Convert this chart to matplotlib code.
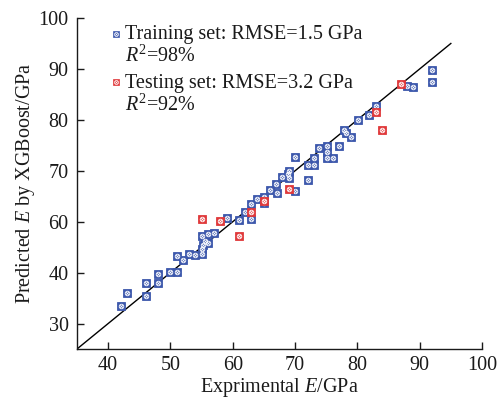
import numpy as np
import matplotlib
matplotlib.use("Agg")
import matplotlib.pyplot as plt
from matplotlib.lines import Line2D
from matplotlib.legend_handler import HandlerBase

# ---------------- data ----------------
train_x = [42.0, 43.0, 46.0, 46.0, 48.0, 48.0, 49.9, 51.1, 51.0, 52.0, 53.0, 54.0,
           55.1, 55.0, 55.3, 55.6, 56.1, 55.1, 56.0, 57.0, 59.0, 61.0, 61.9, 62.9,
           62.9, 63.9, 65.0, 65.0, 65.9, 67.1, 67.0, 67.9, 68.8, 69.0, 69.0, 70.0,
           70.0, 72.0, 72.0, 73.0, 73.0, 73.9, 75.1, 75.1, 75.1, 76.1, 77.0, 77.9,
           78.1, 79.0, 80.1, 81.9, 83.0, 88.0, 89.0, 92.0, 92.0]
train_y = [43.5, 45.9, 45.5, 47.9, 47.9, 49.7, 50.1, 50.1, 53.2, 52.4, 53.6, 53.4,
           53.7, 54.6, 55.5, 56.3, 55.8, 57.1, 57.5, 57.8, 60.7, 60.4, 62.0, 60.5,
           63.5, 64.5, 64.8, 63.7, 66.3, 65.6, 67.5, 68.8, 69.3, 69.9, 68.5, 66.1,
           72.7, 68.1, 71.2, 71.2, 72.5, 74.4, 74.8, 73.6, 72.5, 72.5, 74.9, 78.0,
           77.4, 76.6, 80.0, 81.0, 82.7, 86.7, 86.4, 89.7, 87.4]
test_x = [55.0, 58.0, 61.0, 63.0, 65.0, 69.0, 83.0, 83.9, 87.0]
test_y = [60.6, 60.2, 57.1, 62.0, 64.1, 66.4, 81.5, 78.0, 87.0]

diag = [35, 95]
x_ticks = [40, 50, 60, 70, 80, 90, 100]
x_labels = ["40", "50", "60", "70", "80", "90", "100"]
y_ticks = [40, 50, 60, 70, 80, 90, 100]
y_labels = ["30", "40", "60", "70", "80", "90", "100"]

train_label = "Training set: RMSE=1.5 GPa\n$R^2$=98%"
test_label = "Testing set: RMSE=3.2 GPa\n$R^2$=92%"

BLUE = "#3D58AC"
RED = "#E0393B"

# ---------------- style ----------------
plt.rcParams["font.family"] = ["Liberation Serif", "DejaVu Serif"]
plt.rcParams["mathtext.fontset"] = "custom"
plt.rcParams["mathtext.rm"] = "Liberation Serif"
plt.rcParams["mathtext.it"] = "Liberation Serif:italic"
FS = 14.5

fig = plt.figure(figsize=(4.99, 4.0), dpi=100)
ax = fig.add_axes([77 / 499, 1 - 349 / 400, 405 / 499, 331 / 400])


def patterned(ax, x, y, color, ms=5.3):
    ax.plot(x, y, ls="none", marker="s", ms=ms, mfc=color, mec=color, mew=0.6, zorder=3)
    ax.plot(x, y, ls="none", marker="o", ms=ms * 0.62, mfc="none", mec="white", mew=0.6, zorder=3)
    ax.plot(x, y, ls="none", marker="x", ms=ms * 0.38, mec="white", mew=0.6, zorder=3)


ax.plot(diag, diag, color="black", lw=1.0, zorder=2)
patterned(ax, train_x, train_y, BLUE)
patterned(ax, test_x, test_y, RED)

ax.set_xlim(35, 100)
ax.set_ylim(35, 100)
ax.set_xticks(x_ticks)
ax.set_xticklabels(x_labels)
ax.set_yticks(y_ticks)
ax.set_yticklabels(y_labels)
ax.tick_params(direction="in", length=5, width=1, labelsize=FS, colors="#1a1a1a")
ax.tick_params(axis="x", pad=5)
ax.tick_params(axis="y", pad=6)
for s in ["top", "right"]:
    ax.spines[s].set_visible(False)
for s in ["left", "bottom"]:
    ax.spines[s].set_linewidth(1.0)
    ax.spines[s].set_color("#1a1a1a")

ax.set_xlabel("Exprimental $E$/GPa", fontsize=FS, labelpad=1, color="#1a1a1a")
ax.set_ylabel("Predicted $E$ by XGBoost/GPa", fontsize=FS, labelpad=1, color="#1a1a1a")


class MarkHandler(HandlerBase):
    def __init__(self, color, up):
        super().__init__()
        self.color = color
        self.up = up

    def create_artists(self, legend, orig_handle, xdescent, ydescent,
                       width, height, fontsize, trans):
        x = width / 2 - xdescent
        y = (height - ydescent) / 2 + self.up * fontsize
        ms = 4.6
        a = Line2D([x], [y], ls="none", marker="s", ms=ms, mfc=self.color,
                   mec=self.color, mew=0.5, transform=trans)
        b = Line2D([x], [y], ls="none", marker="o", ms=ms * 0.62, mfc="none",
                   mec="white", mew=0.5, transform=trans)
        c = Line2D([x], [y], ls="none", marker="x", ms=ms * 0.38,
                   mec="white", mew=0.5, transform=trans)
        return [a, b, c]


h_train = Line2D([], [], ls="none")
h_test = Line2D([], [], ls="none")
leg = ax.legend([h_train, h_test], [train_label, test_label],
                handler_map={h_train: MarkHandler(BLUE, 0.62),
                             h_test: MarkHandler(RED, 0.62)},
                loc="upper left", bbox_to_anchor=(0.048, 1.02), frameon=False,
                fontsize=FS, handlelength=0.5, handletextpad=0.2,
                labelspacing=0.35, borderpad=0.2)
for t in leg.get_texts():
    t.set_linespacing(1.08)
    t.set_color("#1a1a1a")

fig.savefig("out.png", dpi=100)
